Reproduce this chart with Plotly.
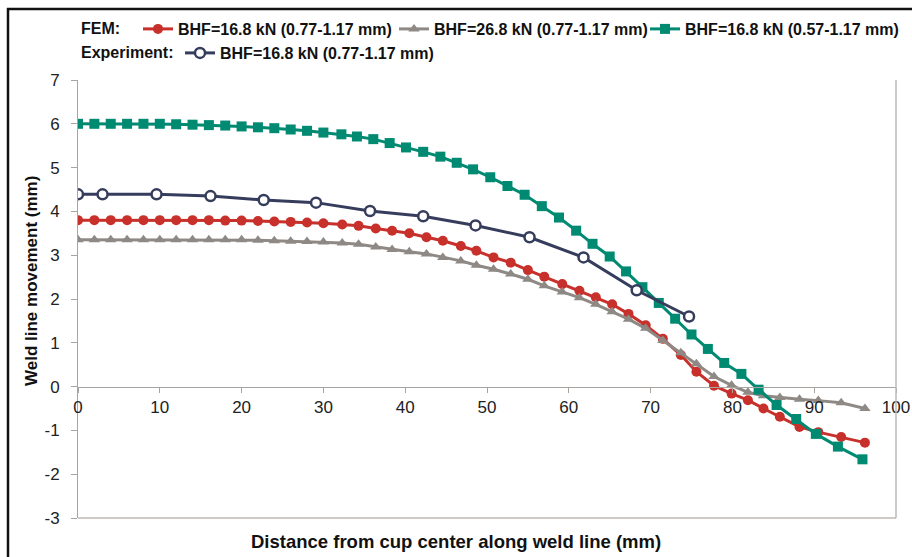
import plotly.graph_objects as go

# ---------------- data ----------------
red_x = [0, 2, 4, 6, 8, 10, 12, 14, 16, 18, 20, 22, 24, 26, 28, 30, 32.3, 34.3, 36.4, 38.4,
         40.5, 42.6, 44.6, 46.8, 48.7, 50.8, 52.9, 55.0, 57.0, 59.2, 61.3, 63.3, 65.3, 67.3,
         69.4, 71.5, 73.7, 75.6, 77.75, 79.9, 81.9, 83.8, 85.8, 88.2, 90.5, 93.3, 96.2]
red_y = [3.80, 3.80, 3.80, 3.80, 3.80, 3.80, 3.80, 3.80, 3.80, 3.79, 3.79, 3.78, 3.77, 3.76,
         3.745, 3.73, 3.70, 3.67, 3.61, 3.56, 3.50, 3.41, 3.33, 3.21, 3.10, 2.95, 2.83, 2.66,
         2.51, 2.34, 2.19, 2.04, 1.88, 1.66, 1.40, 1.09, 0.72, 0.34, 0.02, -0.16, -0.31, -0.50,
         -0.69, -0.92, -1.04, -1.15, -1.28]

gray_x = red_x
gray_y = [3.35, 3.35, 3.35, 3.35, 3.35, 3.35, 3.35, 3.35, 3.35, 3.35, 3.35, 3.34, 3.33, 3.32,
          3.31, 3.30, 3.28, 3.25, 3.19, 3.13, 3.08, 3.03, 2.95, 2.87, 2.77, 2.68, 2.57, 2.45,
          2.30, 2.16, 2.03, 1.88, 1.71, 1.54, 1.33, 1.05, 0.77, 0.52, 0.23, 0.03, -0.13, -0.21,
          -0.25, -0.29, -0.32, -0.37, -0.50]

teal_x = [0, 2, 4, 6, 8, 10, 12, 14, 16, 18, 20, 22, 24, 26, 28, 30, 32.2, 34.1, 36.1, 38.1,
          40.1, 42.2, 44.3, 46.3, 48.3, 50.4, 52.5, 54.6, 56.7, 58.8, 60.9, 62.9, 65.0, 67.0,
          69.0, 71.0, 73.0, 75.0, 77.0, 79.0, 81.1, 83.2, 85.4, 87.8, 90.2, 92.9, 95.9]
teal_y = [6.00, 6.00, 6.00, 6.00, 6.00, 6.00, 5.99, 5.98, 5.97, 5.96, 5.94, 5.92, 5.90, 5.87,
          5.84, 5.80, 5.76, 5.71, 5.65, 5.56, 5.46, 5.36, 5.25, 5.11, 4.96, 4.78, 4.58, 4.38,
          4.12, 3.86, 3.56, 3.26, 2.97, 2.63, 2.27, 1.91, 1.55, 1.19, 0.86, 0.54, 0.29, -0.07,
          -0.42, -0.74, -1.08, -1.37, -1.66]

exp_x = [0, 3, 9.6, 16.2, 22.7, 29.1, 35.7, 42.2, 48.6, 55.2, 61.8, 68.3, 74.7]
exp_y = [4.39, 4.39, 4.39, 4.35, 4.26, 4.20, 4.01, 3.89, 3.68, 3.41, 2.95, 2.20, 1.60]

series_names = ["BHF=16.8 kN (0.77-1.17 mm)", "BHF=26.8 kN (0.77-1.17 mm)",
                "BHF=16.8 kN (0.57-1.17 mm)", "BHF=16.8 kN (0.77-1.17 mm)"]
x_ticks = [0, 10, 20, 30, 40, 50, 60, 70, 80, 90, 100]
y_ticks = [-3, -2, -1, 0, 1, 2, 3, 4, 5, 6, 7]

RED = "#C8302B"
GRAY = "#8E8985"
TEAL = "#008A72"
NAVY = "#363D5C"
FONT = "Liberation Sans, Arial, sans-serif"

L, R, T, B = 78, 16, 80, 39
plot_w = 912 - L - R
plot_h = 557 - T - B


def px_x(p):
    return (p - L) / plot_w


def px_y(p):
    return (557 - B - p) / plot_h


legend_font = dict(family=FONT, size=16, color="#111111", weight="bold")

fig = go.Figure()
fig.add_trace(go.Scatter(x=red_x, y=red_y, name=series_names[0], mode="lines+markers",
                         line=dict(color=RED, width=3),
                         marker=dict(symbol="circle", size=10, color=RED), legend="legend"))
fig.add_trace(go.Scatter(x=gray_x, y=gray_y, name=series_names[1], mode="lines+markers",
                         line=dict(color=GRAY, width=3),
                         marker=dict(symbol="triangle-up", size=10, color=GRAY), legend="legend2"))
fig.add_trace(go.Scatter(x=teal_x, y=teal_y, name=series_names[2], mode="lines+markers",
                         line=dict(color=TEAL, width=3),
                         marker=dict(symbol="square", size=10, color=TEAL), legend="legend3"))
fig.add_trace(go.Scatter(x=exp_x, y=exp_y, name=series_names[3], mode="lines+markers",
                         line=dict(color=NAVY, width=3),
                         marker=dict(symbol="circle", size=10, color="white",
                                     line=dict(color=NAVY, width=2.5)), legend="legend4"))


def leg(xpx, ypx):
    return dict(orientation="h", x=px_x(xpx), xanchor="left", y=px_y(ypx), yanchor="middle",
                font=legend_font, bgcolor="rgba(0,0,0,0)", itemwidth=30, borderwidth=0)


fig.update_layout(
    width=912, height=557,
    margin=dict(l=L, r=R, t=T, b=B, autoexpand=False),
    paper_bgcolor="white", plot_bgcolor="white",
    font=dict(family=FONT),
    showlegend=True,
    legend=leg(138, 29),
    legend2=leg(394, 29),
    legend3=leg(645, 29),
    legend4=leg(180, 53),
    xaxis=dict(range=[0, 100], tickvals=x_ticks, ticktext=[str(v) for v in x_ticks],
               showgrid=False, zeroline=False, showline=True, linecolor="#A8A4A2", linewidth=1,
               ticks="outside", ticklen=5, tickcolor="#A8A4A2",
               tickfont=dict(family=FONT, size=17, color="#222222"),
               anchor="free", position=0.3, fixedrange=True),
    yaxis=dict(range=[-3, 7], tickvals=y_ticks, ticktext=[str(v) for v in y_ticks],
               showgrid=False, zeroline=False, showline=True, linecolor="#A8A4A2", linewidth=1,
               ticks="outside", ticklen=6, tickcolor="#A8A4A2", ticklabelstandoff=8,
               tickfont=dict(family=FONT, size=17, color="#222222"), domain=[0, 1]),
)

annotations = [
    dict(text="Weld line movement (mm)", x=px_x(31), y=px_y(281), xref="paper", yref="paper",
         xanchor="center", yanchor="middle", textangle=-90, showarrow=False,
         font=dict(family=FONT, size=17, color="#111111", weight="bold")),
    dict(text="Distance from cup center along weld line (mm)", x=px_x(456), y=px_y(541),
         xref="paper", yref="paper", xanchor="center", yanchor="middle", showarrow=False,
         font=dict(family=FONT, size=18.5, color="#111111", weight="bold")),
    dict(text="FEM:", x=px_x(79), y=px_y(29), xref="paper", yref="paper", xanchor="left",
         yanchor="middle", showarrow=False, font=legend_font),
    dict(text="Experiment:", x=px_x(79), y=px_y(53), xref="paper", yref="paper", xanchor="left",
         yanchor="middle", showarrow=False, font=legend_font),
]
fig.update_layout(annotations=annotations)

shapes = [
    # outer frame (top and left)
    dict(type="line", xref="paper", yref="paper", x0=px_x(7), x1=px_x(912), y0=px_y(9), y1=px_y(9),
         line=dict(color="#111111", width=2.5)),
    dict(type="line", xref="paper", yref="paper", x0=px_x(8), x1=px_x(8), y0=px_y(8), y1=px_y(557),
         line=dict(color="#111111", width=2.5)),
    # plot-area right and bottom edges
    dict(type="line", xref="paper", yref="paper", x0=1, x1=1, y0=0, y1=1,
         line=dict(color="#BDB8B5", width=1.5)),
    dict(type="line", xref="paper", yref="paper", x0=0, x1=1, y0=0, y1=0,
         line=dict(color="#BDB8B5", width=1.5)),
]
fig.update_layout(shapes=shapes)

fig.write_html("out.html")
